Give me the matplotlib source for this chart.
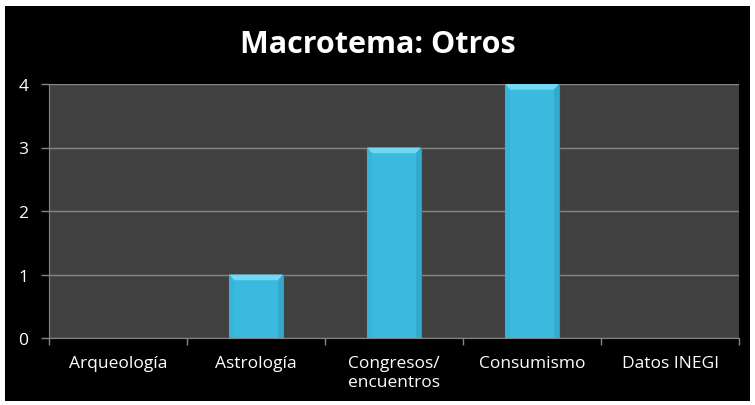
import matplotlib
matplotlib.use("Agg")
import matplotlib.pyplot as plt
from matplotlib.patches import Rectangle, Polygon

categories = ["Arqueología", "Astrología", "Congresos/\nencuentros", "Consumismo", "Datos INEGI"]
values = [0, 1, 3, 4, 0]
yticks = [0, 1, 2, 3, 4]
title = "Macrotema: Otros"

plt.rcParams['font.family'] = ['Open Sans', 'DejaVu Sans']

W, H = 755, 406
fig = plt.figure(figsize=(W / 100, H / 100), dpi=100, facecolor="white")

# black slide backdrop
fig.patches.append(Rectangle((5 / W, 4 / H), (750 - 5) / W, (399 - 4) / H,
                             transform=fig.transFigure, facecolor="black",
                             edgecolor="none", zorder=-10))

ax = fig.add_axes([49 / W, (H - 339) / H, (739 - 49) / W, (339 - 85) / H])
ax.set_zorder(1)
ax.set_facecolor("#404040")

n = len(categories)
ax.set_xlim(-0.5, n - 0.5)
ax.set_ylim(0, 4)

bar_w = 0.39
bar_color = "#3bbadf"
for i, v in enumerate(values):
    if v <= 0:
        continue
    x0, x1 = i - bar_w / 2, i + bar_w / 2
    ax.add_patch(Rectangle((x0, 0), bar_w, v, facecolor=bar_color,
                           edgecolor="#2e9cbf", linewidth=0.8, zorder=3))
    # bevel highlights
    d = 0.09   # bevel depth (y, data units)
    dx = 0.035  # bevel depth (x, data units)
    ax.add_patch(Polygon([(x0, v), (x1, v), (x1 - dx, v - d), (x0 + dx, v - d)],
                         closed=True, facecolor="#72d8f4", edgecolor="none", zorder=4))
    ax.add_patch(Polygon([(x0, 0), (x0, v), (x0 + dx, v - d), (x0 + dx, 0)],
                         closed=True, facecolor="#38b4d9", edgecolor="none", zorder=4))
    ax.add_patch(Polygon([(x1, 0), (x1, v), (x1 - dx, v - d), (x1 - dx, 0)],
                         closed=True, facecolor="#33a9cd", edgecolor="none", zorder=4))

ax.set_yticks(yticks)
ax.set_yticklabels([str(t) for t in yticks], color="white", fontsize=12.5)
ax.yaxis.grid(True, color="#858585", linewidth=1.0, zorder=1)
ax.set_axisbelow(True)

ax.set_xticks(range(n))
ax.set_xticklabels(categories, color="white", fontsize=12.5, linespacing=1.3)
ax.tick_params(axis="x", length=0, pad=12)
ax.set_xticks([i + 0.5 for i in range(-1, n)], minor=True)
ax.tick_params(axis="x", which="minor", length=5, color="#858585", width=1)
ax.tick_params(axis="y", length=6, color="#858585", width=1, pad=9)

for side in ["top", "right"]:
    ax.spines[side].set_visible(False)
ax.spines["left"].set_color("#858585")
ax.spines["bottom"].set_color("#858585")

fig.text((5 + 750) / 2 / W, (H - 45) / H, title, color="white", fontsize=22,
         fontweight="bold", ha="center", va="center")

fig.savefig("out.png", dpi=100, facecolor="white")
